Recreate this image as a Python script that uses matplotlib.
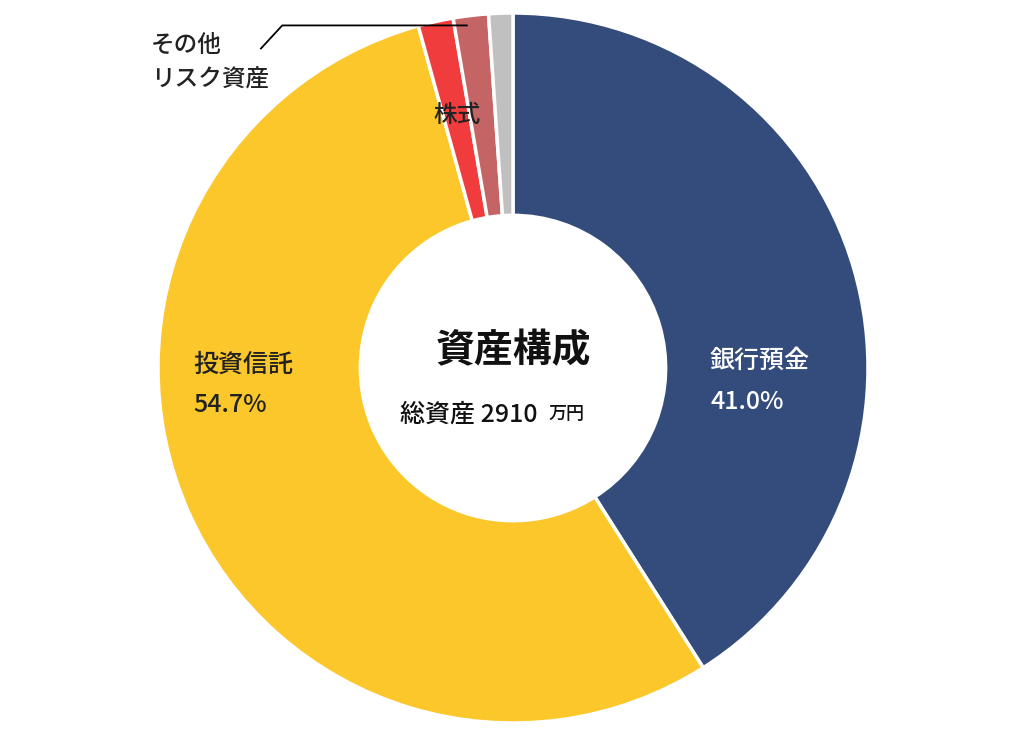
import matplotlib
matplotlib.use("Agg")
import matplotlib.pyplot as plt

plt.rcParams["font.family"] = "Noto Sans CJK JP"

labels = ["銀行預金", "投資信託", "その他リスク資産", "株式", "その他"]
shares = [41.0, 54.7, 1.6, 1.6, 1.1]
colors = ["#344c7c", "#fcc72a", "#f03c3c", "#c46464", "#c0c0c0"]
total_assets = 2910

fig = plt.figure(figsize=(10.24, 7.42), dpi=100)
ax = fig.add_axes([(513 - 355) / 1024, (374 - 355) / 742, 710 / 1024, 710 / 742])
ax.pie(shares, colors=colors, startangle=90, counterclock=False,
       wedgeprops=dict(width=0.57, edgecolor="white", linewidth=2.5))
ax.set_xlim(-1, 1)
ax.set_ylim(-1, 1)
ax.set_aspect("equal")
ax.axis("off")

w = "medium"
ax.text(0.555, 0.02, labels[0], fontsize=18, fontweight=w, color="white", va="center")
ax.text(0.555, -0.095, f"{shares[0]:.1f}%", fontsize=18, fontweight=w, color="white", va="center")
ax.text(-0.90, 0.01, labels[1], fontsize=18, fontweight=w, color="#222222", va="center")
ax.text(-0.90, -0.105, f"{shares[1]:.1f}%", fontsize=18, fontweight=w, color="#222222", va="center")
ax.text(-0.225, 0.71, labels[3], fontsize=17, fontweight=w, color="#222222", va="center")
ax.text(-1.02, 0.91, "その他", fontsize=17, fontweight=w, color="#222222", va="center")
ax.text(-1.02, 0.81, "リスク資産", fontsize=17, fontweight=w, color="#222222", va="center")
ax.plot([-0.71, -0.65, -0.13], [0.90, 0.965, 0.965], color="black", lw=1.3)

ax.text(0.0, 0.05, "資産構成", fontsize=28, fontweight="bold", color="#111111",
        ha="center", va="center")
ax.text(0.07, -0.13, f"総資産 {total_assets}", fontsize=18, fontweight=w, color="#111111",
        ha="right", va="center")
ax.text(0.10, -0.13, "万円", fontsize=13, fontweight=w, color="#111111", ha="left", va="center")

fig.savefig("out.png", dpi=100)
